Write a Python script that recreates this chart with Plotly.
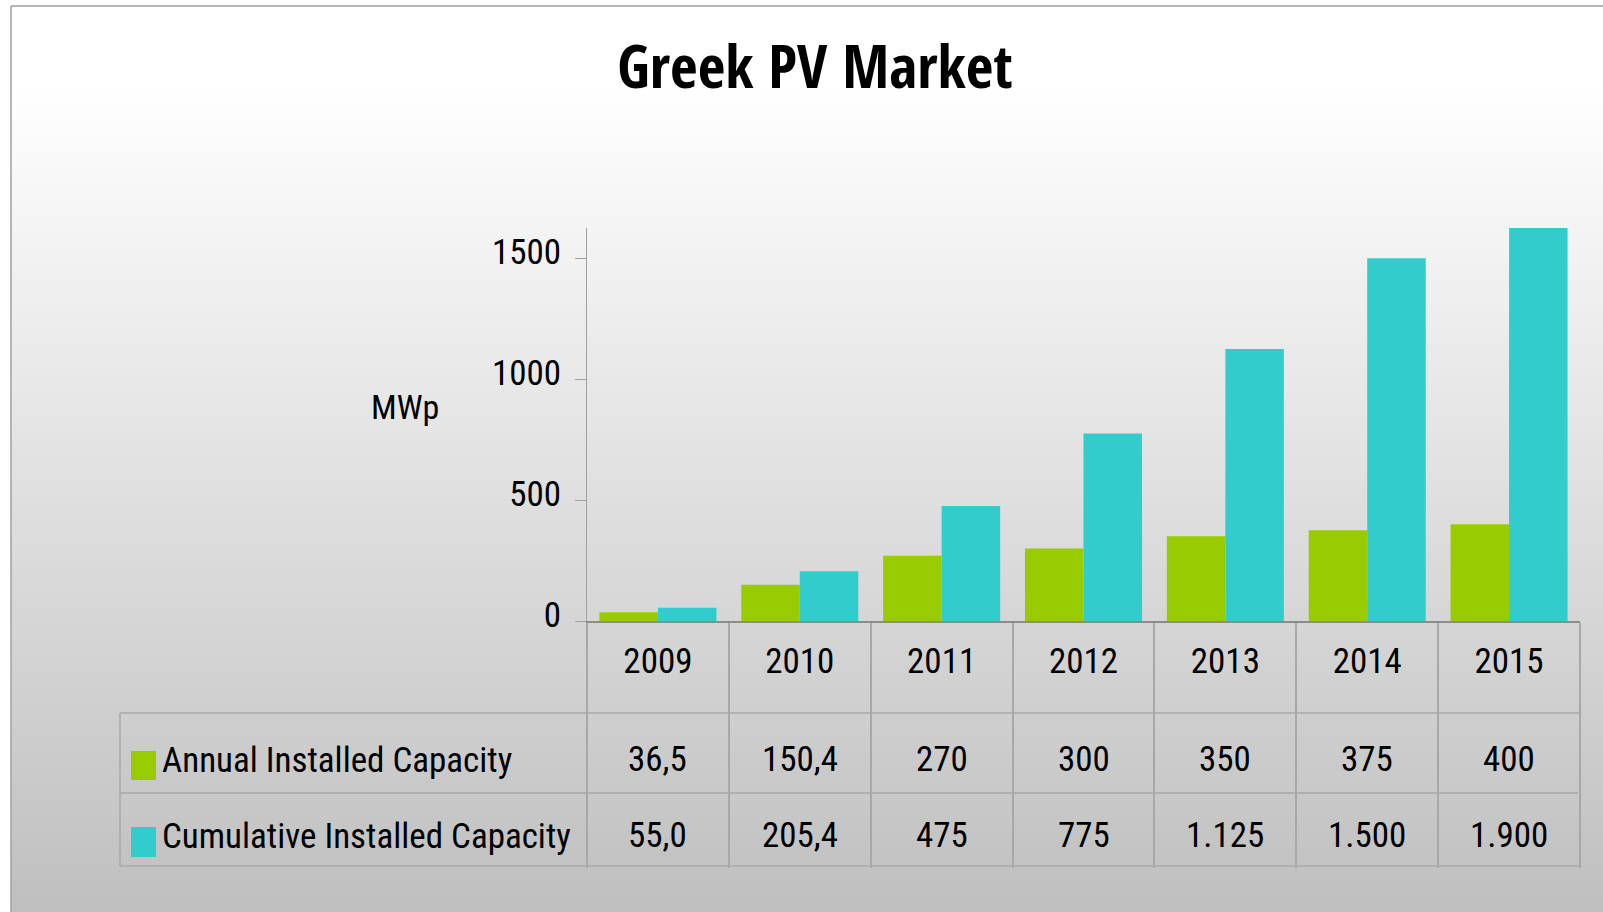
import plotly.graph_objects as go

# data
years = ["2009", "2010", "2011", "2012", "2013", "2014", "2015"]
annual_mw = [36.5, 150.4, 270, 300, 350, 375, 400]
cumulative_mw = [55.0, 205.4, 475, 775, 1125, 1500, 1900]
annual_labels = ["36,5", "150,4", "270", "300", "350", "375", "400"]
cumulative_labels = ["55,0", "205,4", "475", "775", "1.125", "1.500", "1.900"]
series_names = ["Annual Installed Capacity", "Cumulative Installed Capacity"]
series_colors = ["#99cc00", "#33cccc"]
y_ticks = [0, 500, 1000, 1500]

W, H = 1603, 912
PLOT_L, PLOT_R, PLOT_T, PLOT_B = 587, 1580, 228, 621
TABLE_L, TABLE_B = 120, 866
FONT = "Roboto Condensed, DejaVu Sans Condensed, Liberation Sans, sans-serif"
TITLE_FONT = "Open Sans Condensed, Roboto Condensed, Liberation Sans, sans-serif"
FS = 35
LINE = "#a8a8a8"


def px_x(px):
    """pixel column -> paper x"""
    return (px - PLOT_L) / (PLOT_R - PLOT_L)


def px_y(py):
    """pixel row -> paper y"""
    return (PLOT_B - py) / (PLOT_B - PLOT_T)


fig = go.Figure()
for name, vals, color in zip(series_names, [annual_mw, cumulative_mw], series_colors):
    fig.add_trace(go.Bar(x=years, y=vals, name=name, showlegend=False,
                         marker=dict(color=color, line=dict(width=0))))

shapes = []

# slide background: white at the top fading to grey at the bottom
grad_top, step = 85, 4
for y0 in range(6, H, step):
    t = max(0, y0 - grad_top) / (H - grad_top)
    g = round(255 - t * 64)
    shapes.append(dict(type="rect", xref="paper", yref="paper", layer="below",
                       x0=px_x(11), x1=px_x(W + 5), y0=px_y(y0), y1=px_y(y0 + step + 1),
                       fillcolor=f"rgb({g},{g},{g})", line=dict(width=0)))

# slide frame
shapes.append(dict(type="line", xref="paper", yref="paper", x0=px_x(11), x1=px_x(W + 5),
                   y0=px_y(6), y1=px_y(6), line=dict(color="#a0a0a0", width=1.5)))
shapes.append(dict(type="line", xref="paper", yref="paper", x0=px_x(11), x1=px_x(11),
                   y0=px_y(6), y1=px_y(H + 5), line=dict(color="#a0a0a0", width=1.5)))

# data table grid
for yy, xr in [(713, PLOT_R), (793, PLOT_R - 2), (TABLE_B, PLOT_R)]:
    shapes.append(dict(type="line", xref="paper", yref="paper", x0=px_x(TABLE_L), x1=px_x(xr),
                       y0=px_y(yy), y1=px_y(yy), line=dict(color=LINE, width=1.5)))
shapes.append(dict(type="line", xref="paper", yref="paper", x0=px_x(TABLE_L), x1=px_x(TABLE_L),
                   y0=px_y(713), y1=px_y(TABLE_B), line=dict(color=LINE, width=1.5)))

# legend keys in the table
row_keys = [(751, 780), (827, 857)]
for (y0, y1), color in zip(row_keys, series_colors):
    shapes.append(dict(type="rect", xref="paper", yref="paper", x0=px_x(131), x1=px_x(156),
                       y0=px_y(y0), y1=px_y(y1), fillcolor=color, line=dict(width=0)))

annotations = []
row_text_y = [760, 836]
value_y = [759, 835]
for name, ty in zip(series_names, row_text_y):
    annotations.append(dict(text=name, xref="paper", yref="paper", x=px_x(160), y=px_y(ty),
                            xanchor="left", yanchor="middle", showarrow=False,
                            font=dict(size=FS, family=FONT, color="black")))
for labels, vy in zip([annual_labels, cumulative_labels], value_y):
    for i, lab in enumerate(labels):
        annotations.append(dict(text=lab, xref="x", yref="paper", x=i, y=px_y(vy),
                                xanchor="center", yanchor="middle", showarrow=False,
                                font=dict(size=FS, family=FONT, color="black")))

annotations.append(dict(text="MWp", xref="paper", yref="paper", x=px_x(405), y=px_y(407),
                        xanchor="center", yanchor="middle", showarrow=False,
                        font=dict(size=34, family=FONT, color="black")))

fig.update_layout(
    width=W, height=H,
    margin=dict(l=PLOT_L, r=W - PLOT_R, t=PLOT_T, b=H - PLOT_B, pad=0),
    paper_bgcolor="white", plot_bgcolor="rgba(0,0,0,0)",
    barmode="group", bargap=0.175, bargroupgap=0,
    font=dict(family=FONT, size=FS, color="black"),
    title=dict(text="<b>Greek PV Market</b>", xref="container", yref="container",
               x=815 / W, xanchor="center", y=1 - 67 / H, yanchor="middle",
               font=dict(family=TITLE_FONT, size=60, color="black")),
    shapes=shapes, annotations=annotations,
)

tick_len = TABLE_B - PLOT_B
fig.update_xaxes(type="category", range=[-0.5, len(years) - 0.5], tickson="boundaries",
                 ticks="outside", ticklen=tick_len, tickangle=0,
                 tickcolor=LINE, tickwidth=1.5, showline=True, linecolor="#8c8c8c", linewidth=2,
                 showgrid=False, zeroline=False, tickfont=dict(size=FS, family=FONT),
                 ticklabelstandoff=8)
fig.update_yaxes(range=[0, 1625], tickvals=y_ticks, ticks="outside", ticklen=11,
                 tickcolor="#a0a0a0", tickwidth=1, showline=True, linecolor="#a0a0a0",
                 linewidth=1, showgrid=False, zeroline=False, ticklabelstandoff=7,
                 ticklabelshift=-6, tickfont=dict(size=FS, family=FONT))

fig.write_html("out.html", config={"displayModeBar": False},
               post_script="document.body.style.margin='0px';")
